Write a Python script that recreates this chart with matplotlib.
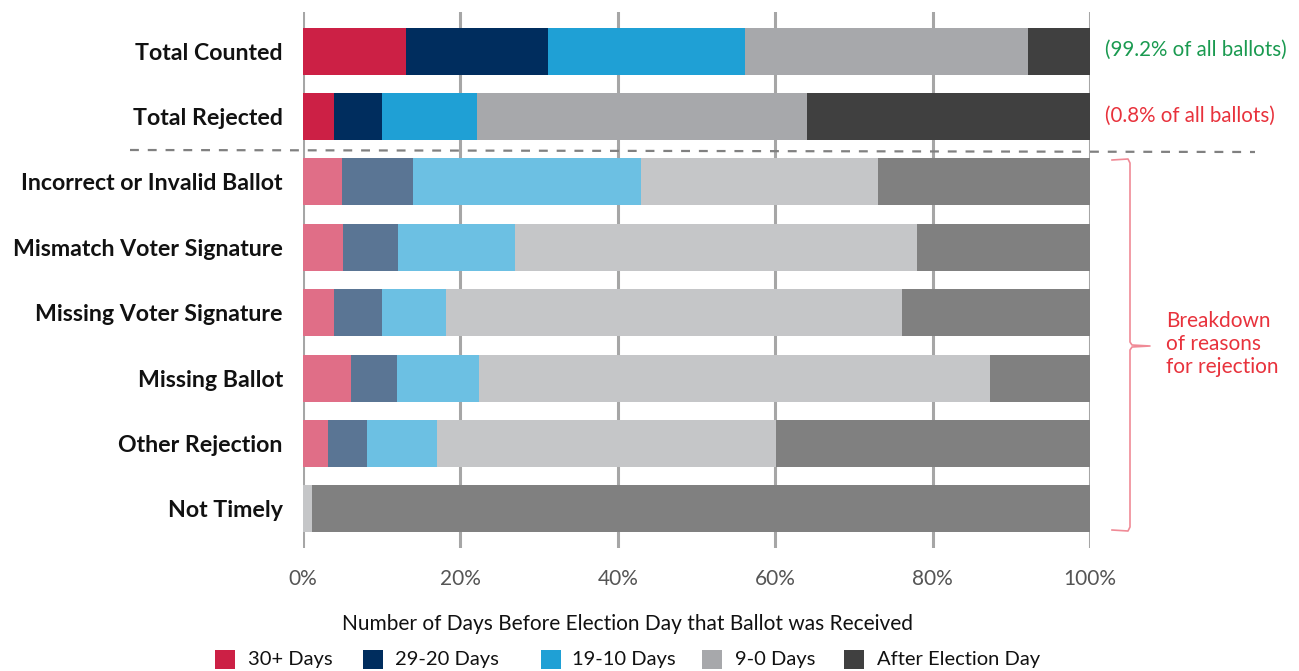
import matplotlib
matplotlib.use("Agg")
import matplotlib.pyplot as plt
from matplotlib.patches import Rectangle
from matplotlib.lines import Line2D
import numpy as np

plt.rcParams['font.family'] = ['Lato', 'DejaVu Sans']

categories = ["Total Counted", "Total Rejected", "Incorrect or Invalid Ballot",
              "Mismatch Voter Signature", "Missing Voter Signature", "Missing Ballot",
              "Other Rejection", "Not Timely"]
series_names = ["30+ Days", "29-20 Days", "19-10 Days", "9-0 Days", "After Election Day"]
# percentages per category (rows) for each series (cols)
values = {
    "30+ Days":           [13.1, 4.0, 5.0, 5.1, 4.0, 6.1, 3.2, 0.0],
    "29-20 Days":         [18.0, 6.0, 9.0, 7.0, 6.0, 5.9, 4.9, 0.0],
    "19-10 Days":         [25.1, 12.1, 29.0, 14.9, 8.2, 10.4, 8.9, 0.0],
    "9-0 Days":           [35.9, 41.9, 30.0, 51.0, 57.9, 64.9, 43.1, 1.1],
    "After Election Day": [7.9, 36.0, 27.0, 22.0, 23.9, 12.7, 39.9, 98.9],
}
xticks = [0, 20, 40, 60, 80, 100]
xtick_labels = ["0%", "20%", "40%", "60%", "80%", "100%"]

strong = ["#CC2045", "#002D5E", "#1FA0D5", "#A7A8AB", "#404040"]
light = ["#E06E87", "#5A7594", "#6CC0E3", "#C5C6C8", "#808080"]

W, H = 1299, 671
fig = plt.figure(figsize=(W / 100, H / 100), dpi=100)
ax = fig.add_axes([303 / W, 1 - 548 / H, (1090 - 303) / W, (548 - 12) / H])

y = np.arange(len(categories))
left = np.zeros(len(categories))
for si, name in enumerate(series_names):
    vals = np.array(values[name])
    cols = [strong[si] if r < 2 else light[si] for r in range(len(categories))]
    ax.barh(y, vals, left=left, height=0.72, color=cols, edgecolor='none', zorder=3)
    left += vals

ax.set_xlim(0, 100)
ax.set_ylim(7.6, -0.6)
ax.set_xticks(xticks)
ax.set_xticklabels(xtick_labels, fontsize=15, color="#555555")
ax.set_yticks(y)
ax.set_yticklabels(categories, fontsize=16.7, fontweight='bold', color="#111111")
ax.tick_params(axis='both', length=0)
ax.tick_params(axis='x', pad=15)
ax.tick_params(axis='y', pad=14.5)
for s in ax.spines.values():
    s.set_visible(False)
ax.grid(axis='x', color="#A6A6A6", linewidth=2.2, zorder=0)
ax.set_axisbelow(True)

# dashed separator
fig.add_artist(Line2D([130 / W, 1255 / W], [1 - 150 / H, 1 - 152 / H], color="#808080",
                      linestyle=(0, (4, 4)), linewidth=1.6))

# right annotations
fig.text(1105 / W, 1 - 50 / H, "(99.2% of all ballots)", color="#1A9A50", fontsize=14.8, va='center')
fig.text(1105 / W, 1 - 116 / H, "(0.8% of all ballots)", color="#E8323C", fontsize=14.8, va='center')

# bracket
bx0, bx1, btip = 1112, 1130, 1150
yt, ym, yb = 160, 346, 530
pts_x = [bx0, bx1 - 2, bx1, bx1, bx1 + 2, btip, bx1 + 2, bx1, bx1, bx1 - 2, bx0]
pts_y = [yt, yt - 1, yt + 3, ym - 4, ym - 1, ym, ym + 1, ym + 4, yb - 3, yb + 1, yb]
fig.add_artist(Line2D([p / W for p in pts_x], [1 - p / H for p in pts_y],
                      color="#F08A96", linewidth=1.2))
fig.text(1166 / W, 1 - 344 / H, "Breakdown\nof reasons\nfor rejection", color="#E8323C",
         fontsize=15, va='center', ha='left', linespacing=1.2)

# legend
fig.text(627 / W, 1 - 624 / H, "Number of Days Before Election Day that Ballot was Received",
         fontsize=15, ha='center', va='center', color="#111111")
sq_x = [215, 363, 541, 702, 844]
tx_x = [248, 395, 572, 735, 877]
for i, name in enumerate(series_names):
    fig.add_artist(Rectangle((sq_x[i] / W, 1 - 669 / H), 20 / W, 19 / H,
                             facecolor=strong[i], edgecolor='none'))
    fig.text(tx_x[i] / W, 1 - 660 / H, name, fontsize=14.5, va='center', color="#111111")

fig.savefig("out.png", dpi=100)
